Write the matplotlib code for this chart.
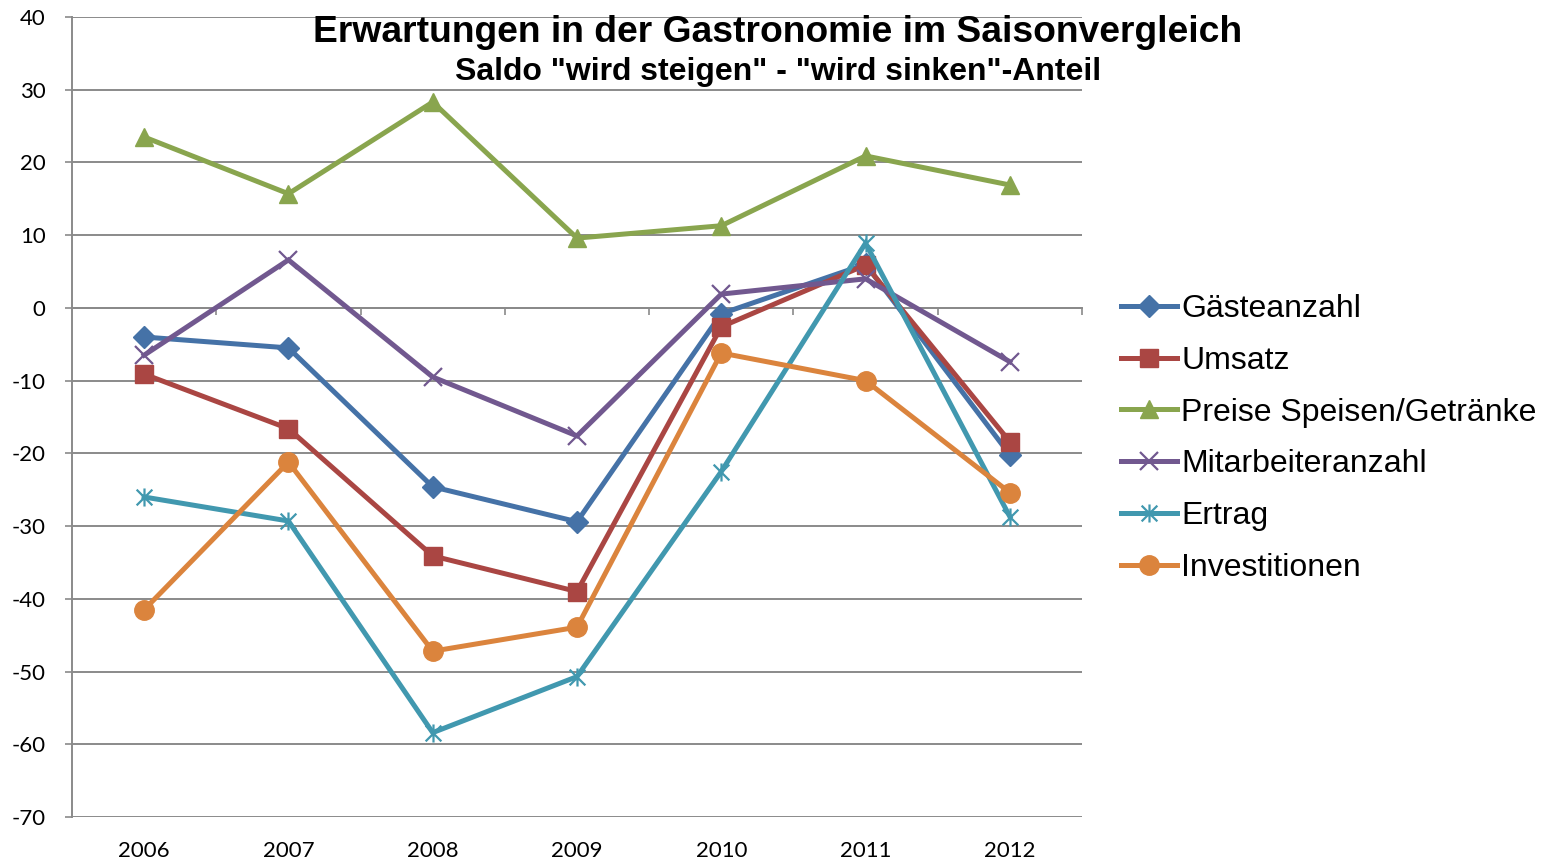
import matplotlib
matplotlib.use("Agg")
import matplotlib.pyplot as plt
from matplotlib.path import Path

# ---- data ----
years = ["2006", "2007", "2008", "2009", "2010", "2011", "2012"]
gaesteanzahl = [-4.0, -5.5, -24.6, -29.4, -0.8, 6.0, -20.2]
umsatz = [-9.1, -16.6, -34.1, -39.0, -2.6, 5.9, -18.4]
preise = [23.5, 15.7, 28.3, 9.6, 11.3, 20.9, 16.9]
mitarbeiter = [-6.5, 6.6, -9.5, -17.6, 1.9, 4.0, -7.4]
ertrag = [-26.0, -29.3, -58.4, -50.7, -22.5, 8.9, -28.7]
investitionen = [-41.5, -21.2, -47.2, -43.9, -6.2, -10.0, -25.4]

series_names = ["Gästeanzahl", "Umsatz", "Preise Speisen/Getränke",
                "Mitarbeiteranzahl", "Ertrag", "Investitionen"]
y_ticks = [40, 30, 20, 10, 0, -10, -20, -30, -40, -50, -60, -70]

title = "Erwartungen in der Gastronomie im Saisonvergleich"
subtitle = 'Saldo "wird steigen" - "wird sinken"-Anteil'

# ---- styling ----
tick_font = ["Lato", "DejaVu Sans"]
main_font = ["Liberation Sans", "DejaVu Sans"]

colors = ["#4572A7", "#AA4643", "#89A54E", "#71588F", "#4198AF", "#DB843D"]
asterisk = Path([(-1, -1), (1, 1), (-1, 1), (1, -1), (0, -1.15), (0, 1.15)],
                [Path.MOVETO, Path.LINETO, Path.MOVETO, Path.LINETO, Path.MOVETO, Path.LINETO])
markers = ["D", "s", "^", "x", asterisk, "o"]
msizes = [11, 13, 13, 13, 13, 14]
mews = [1, 1, 1, 1.6, 1.6, 1]

fig = plt.figure(figsize=(15.45, 8.64), dpi=100)
ax = fig.add_axes([72 / 1545, 1 - 817 / 864, (1082 - 72) / 1545, 800 / 864])

x = list(range(len(years)))
data = [gaesteanzahl, umsatz, preise, mitarbeiter, ertrag, investitionen]
for i, (vals, name) in enumerate(zip(data, series_names)):
    ax.plot(x, vals, color=colors[i], lw=3.6, marker=markers[i], ms=msizes[i],
            mec=colors[i], mfc=colors[i], mew=mews[i], label=name, zorder=3 + i,
            solid_joinstyle="miter")

ax.set_xlim(-0.5, len(years) - 0.5)
ax.set_ylim(-70, 40)
ax.set_yticks(y_ticks)
ax.set_yticklabels([str(v) for v in y_ticks], fontfamily=tick_font, fontsize=16)
ax.yaxis.grid(True, color="#8A8A8A", lw=1.4)
ax.set_axisbelow(True)

for s in ["top", "right"]:
    ax.spines[s].set_visible(False)
ax.spines["left"].set_color("#8A8A8A")
ax.spines["left"].set_linewidth(1.4)
ax.spines["bottom"].set_position(("data", 0))
ax.spines["bottom"].set_color("#8A8A8A")
ax.spines["bottom"].set_linewidth(1.4)

ax.tick_params(axis="y", length=5, width=1.2, color="#8A8A8A", pad=14, labelcolor="black")
ax.set_xticks([xi + 0.5 for xi in x])
ax.set_xticklabels([])
ax.tick_params(axis="x", length=5, width=1.2, color="#8A8A8A", direction="out")

trans = ax.get_xaxis_transform()
for xi, yr in zip(x, years):
    ax.text(xi, -0.043, yr, transform=trans, ha="center", va="center",
            fontfamily=tick_font, fontsize=16, color="black")

fig.text(0.5036, 1 - 42 / 864, title, ha="center", va="baseline",
         fontfamily=main_font, fontweight="bold", fontsize=26.8)
fig.text(0.5036, 1 - 80 / 864, subtitle, ha="center", va="baseline",
         fontfamily=main_font, fontweight="bold", fontsize=23)

leg = fig.legend(loc="center left", bbox_to_anchor=(1121 / 1545, 1 - 438.5 / 864),
                 frameon=False, prop={"family": main_font, "size": 23},
                 handlelength=1.75, handletextpad=0.13, labelspacing=0.68,
                 borderpad=0, borderaxespad=0)

fig.savefig("out.png", dpi=100)
